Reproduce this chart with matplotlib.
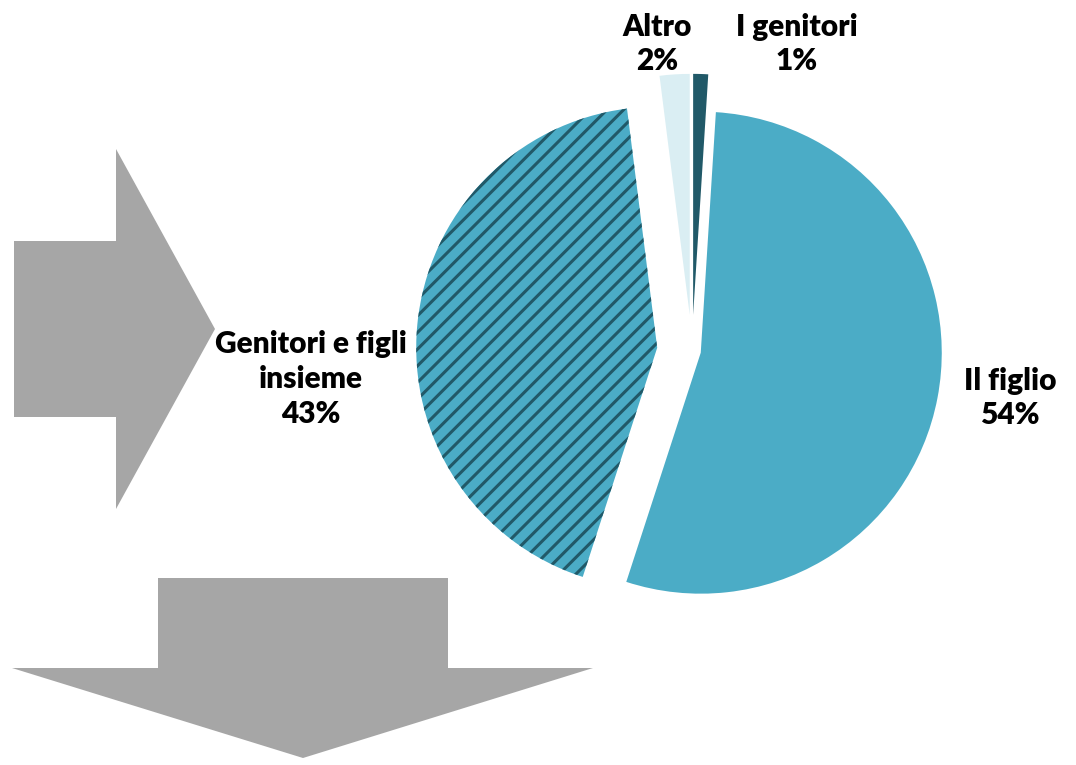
import numpy as np
import matplotlib
matplotlib.use("Agg")
import matplotlib.pyplot as plt
from matplotlib.patches import Polygon

plt.rcParams["font.family"] = ["Lato", "DejaVu Sans"]
plt.rcParams["hatch.linewidth"] = 2.2

# ── 数据 ──
labels = ["I genitori", "Il figlio", "Genitori e figli\ninsieme", "Altro"]
values = [1, 54, 43, 2]
colors = ["#215968", "#4BACC6", "#4BACC6", "#DAEEF3"]
hatches = ["", "", "//", ""]
explode = [0.15, 0.037, 0.145, 0.15]

W, H = 1076, 765
CX, CY, S = 692, 351, 241  # 饼图中心和半径 (像素)


def P(x, y):
    """像素坐标 -> 饼图坐标"""
    return (x - CX) / S, (CY - y) / S


fig = plt.figure(figsize=(W / 100, H / 100), dpi=100)
ax = fig.add_axes([0, 0, 1, 1])

wedges, _ = ax.pie(values, colors=colors, explode=explode, startangle=90,
                   counterclock=False, radius=1, hatch=hatches,
                   wedgeprops=dict(linewidth=0))
for w, h in zip(wedges, hatches):
    if h:
        w.set_edgecolor("#215968")
        w.set_linewidth(0)

# ── 箭头 ──
right_arrow = [(14, 241), (116, 241), (116, 149), (215, 329), (116, 509),
               (116, 417), (14, 417)]
down_arrow = [(158, 578), (448, 578), (448, 668), (593, 668), (303, 758),
              (12, 668), (158, 668)]
for pts in (right_arrow, down_arrow):
    ax.add_patch(Polygon([P(x, y) for x, y in pts], closed=True,
                         facecolor="#A6A6A6", edgecolor="none"))

# ── 标签 ──
label_pos = [(797, 44), (1010, 398), (311, 379), (657, 44)]
for lab, v, (x, y) in zip(labels, values, label_pos):
    ax.text(*P(x, y), f"{lab}\n{v}%", ha="center", va="center",
            fontsize=21.5, fontweight="heavy", linespacing=1.3, color="black")

ax.set_xlim(P(0, 0)[0], P(W, 0)[0])
ax.set_ylim(P(0, H)[1], P(0, 0)[1])
ax.set_aspect("equal")
ax.axis("off")

fig.savefig("out.png", dpi=100)
